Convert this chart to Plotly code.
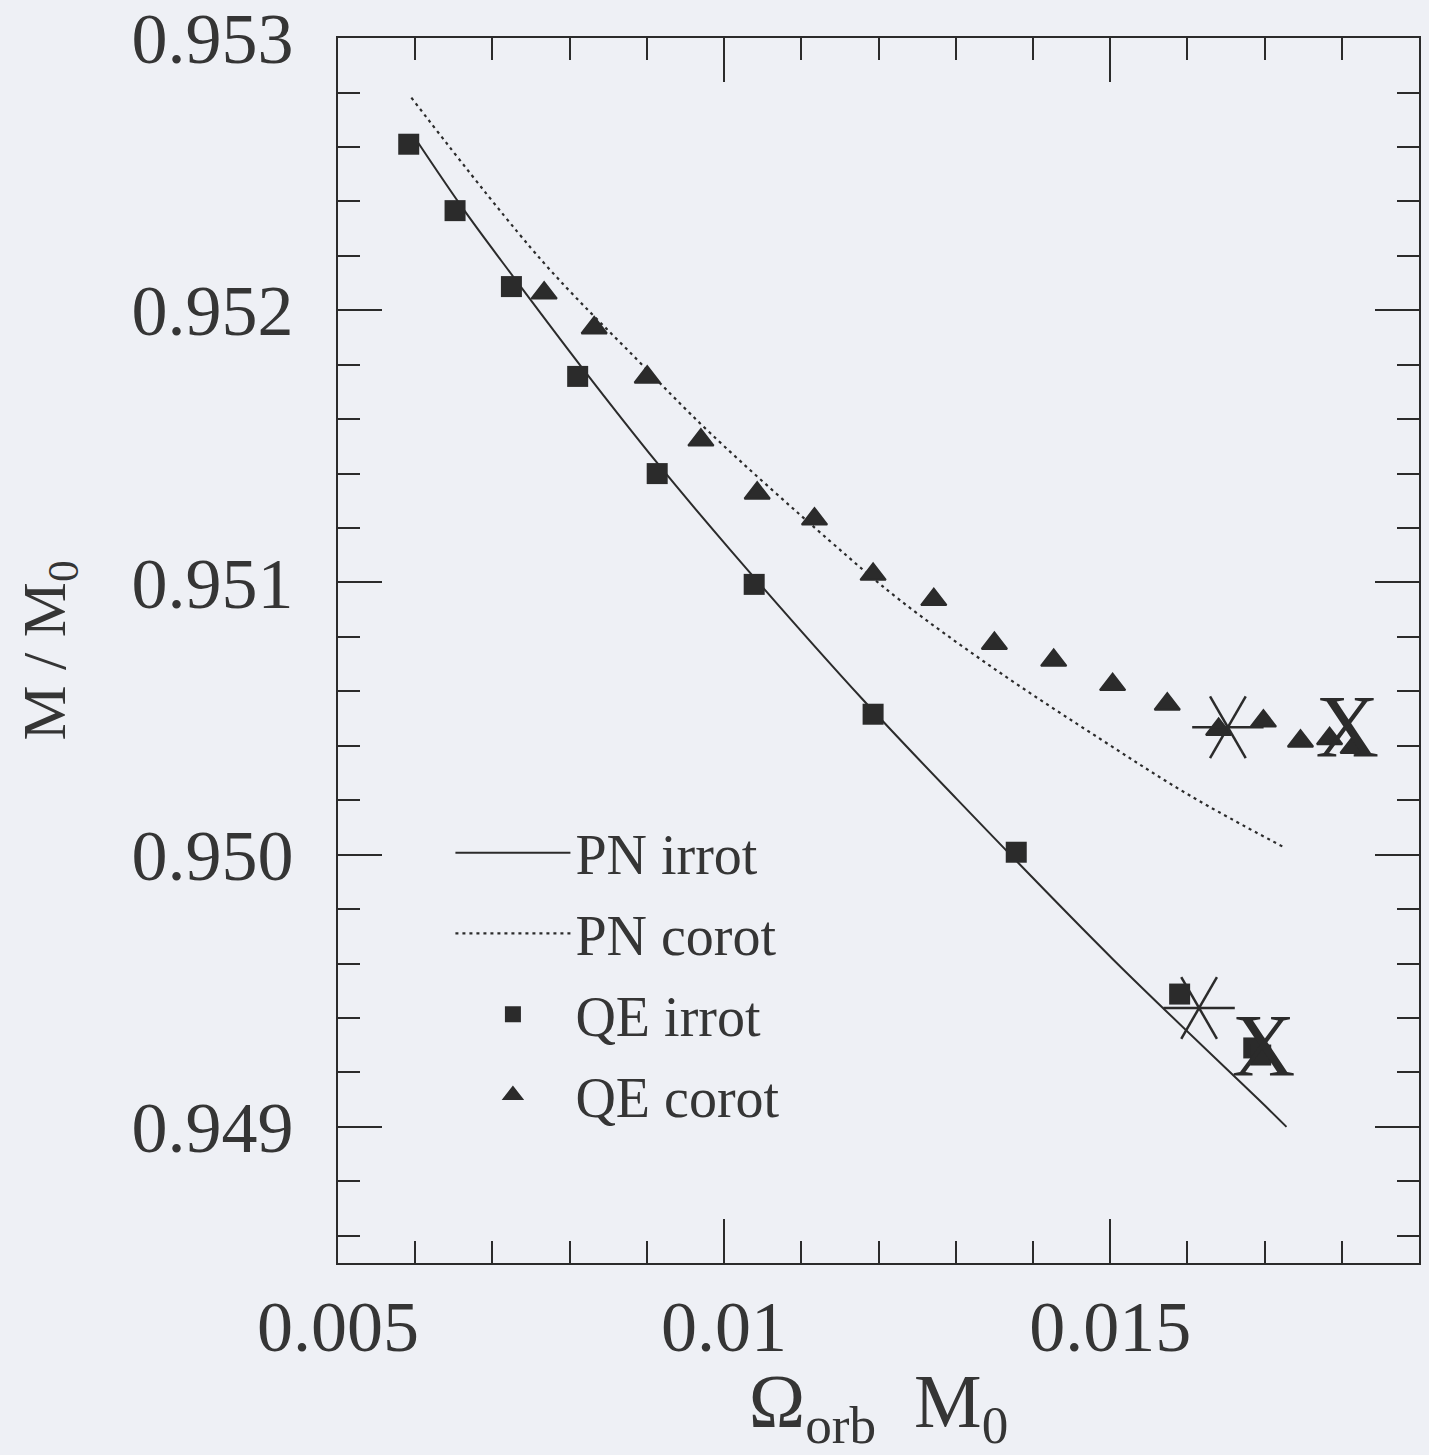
import plotly.graph_objects as go

# ---- data ----
qe_irrot_x = [0.005916, 0.006516, 0.007246, 0.008104, 0.009134, 0.01039, 0.01193, 0.013784, 0.0159, 0.01686, 0.01695]
qe_irrot_y = [0.952610, 0.952366, 0.952087, 0.951757, 0.951400, 0.950993, 0.950516, 0.950009, 0.949488, 0.949290, 0.949264]

qe_corot_x = [0.00767, 0.008318, 0.009005, 0.0097, 0.010429, 0.011171, 0.01193, 0.012716, 0.013501,
              0.014269, 0.015032, 0.01574, 0.016405, 0.016985, 0.017465, 0.017842, 0.018147]
qe_corot_y = [0.952063, 0.951935, 0.951754, 0.951523, 0.951328, 0.951233, 0.951030, 0.950937, 0.950776,
              0.950714, 0.950625, 0.950553, 0.950460, 0.950491, 0.950417, 0.950426, 0.950394]

pn_irrot_x = [0.005997, 0.006645, 0.007268, 0.008147, 0.009134, 0.010077, 0.011793, 0.013015, 0.015032, 0.017049, 0.017284]
pn_irrot_y = [0.952633, 0.952363, 0.952124, 0.951794, 0.951439, 0.951121, 0.950571, 0.950204, 0.949617, 0.949066, 0.949000]

pn_corot_x = [0.00595, 0.007632, 0.008876, 0.00982, 0.011364, 0.012265, 0.01351, 0.014878, 0.01604, 0.017246]
pn_corot_y = [0.952781, 0.952185, 0.951818, 0.951549, 0.951154, 0.950938, 0.950681, 0.950424, 0.950216, 0.950028]

star_x = [0.016525, 0.016152]
star_y = [0.950468, 0.949437]

cross_x = [0.01807, 0.016988]
cross_y = [0.950442, 0.949272]
cross_text = ["X", "X"]

x_tickvals = [0.005, 0.01, 0.015]
x_ticktext = ["0.005", "0.01", "0.015"]
y_tickvals = [0.949, 0.950, 0.951, 0.952, 0.953]
y_ticktext = ["0.949", "0.950", "0.951", "0.952", "0.953"]

INK = "#2b2b2b"
TXT = "#353535"
BG = "#eef0f5"
FONT = "Liberation Serif"

fig = go.Figure()

fig.add_trace(go.Scatter(x=pn_irrot_x, y=pn_irrot_y, mode="lines", name="PN irrot",
                         line=dict(color=INK, width=2, shape="spline"), legendgroup="a"))
fig.add_trace(go.Scatter(x=pn_corot_x, y=pn_corot_y, mode="lines", name="PN corot",
                         line=dict(color=INK, width=2.2, dash="3px,4px", shape="spline"), legendgroup="b"))
fig.add_trace(go.Scatter(x=qe_irrot_x, y=qe_irrot_y, mode="markers", name="QE irrot",
                         marker=dict(symbol="square", size=21, color=INK), legendgroup="c"))
fig.add_trace(go.Scatter(x=qe_corot_x, y=qe_corot_y, mode="markers", name="QE corot",
                         marker=dict(symbol="triangle-up", size=22, color=INK,
                                     line=dict(color=INK, width=2)), legendgroup="d"))

# asterisk-like six-armed markers
for sym, ang in (("line-ew-open", 0), ("line-ns-open", 30), ("line-ns-open", -30)):
    fig.add_trace(go.Scatter(x=star_x, y=star_y, mode="markers", showlegend=False,
                             marker=dict(symbol=sym, size=51, angle=ang, color=INK,
                                         line=dict(color=INK, width=2.5))))

# serif X markers
fig.add_trace(go.Scatter(x=cross_x, y=cross_y, mode="text", text=cross_text, showlegend=False,
                         textposition="middle center",
                         textfont=dict(family=FONT, size=88, color=INK)))

axis_common = dict(showline=True, linecolor=INK, linewidth=2, mirror="allticks",
                   ticks="inside", tickcolor=INK, tickwidth=2, ticklen=44,
                   showgrid=False, zeroline=False,
                   tickfont=dict(family=FONT, size=72, color=TXT))

fig.update_xaxes(range=[0.005, 0.019], tickvals=x_tickvals, ticktext=x_ticktext,
                 minor=dict(dtick=0.001, tick0=0.005, ticks="inside", ticklen=22,
                            tickwidth=2, tickcolor=INK, showgrid=False),
                 ticklabelstandoff=0,
                 title=dict(text="Ω<sub>orb</sub>  M<sub>0</sub>", standoff=30,
                            font=dict(family=FONT, size=76, color=TXT)),
                 **axis_common)
fig.update_yaxes(range=[0.9485, 0.9530002], tickvals=y_tickvals, ticktext=y_ticktext,
                 minor=dict(dtick=0.0002, tick0=0.949, ticks="inside", ticklen=22,
                            tickwidth=2, tickcolor=INK, showgrid=False),
                 ticklabelstandoff=28, ticklabeloverflow="allow",
                 title=dict(text="M / M<sub>0</sub>", standoff=46,
                            font=dict(family=FONT, size=62, color=TXT)),
                 **axis_common)

fig.update_layout(
    width=1429, height=1455,
    margin=dict(l=338, r=10, t=38, b=192, autoexpand=False),
    paper_bgcolor=BG, plot_bgcolor=BG,
    showlegend=True,
    legend=dict(x=0.104, y=0.370, xanchor="left", yanchor="top",
                bgcolor="rgba(0,0,0,0)", borderwidth=0,
                font=dict(family=FONT, size=56, color=TXT),
                itemwidth=115, traceorder="grouped", tracegroupgap=5),
)

fig.write_html(
    "out.html",
    config={"displayModeBar": False},
    post_script="document.body.style.margin='0';document.body.style.overflow='hidden';"
                "document.body.style.background='" + BG + "';",
)
